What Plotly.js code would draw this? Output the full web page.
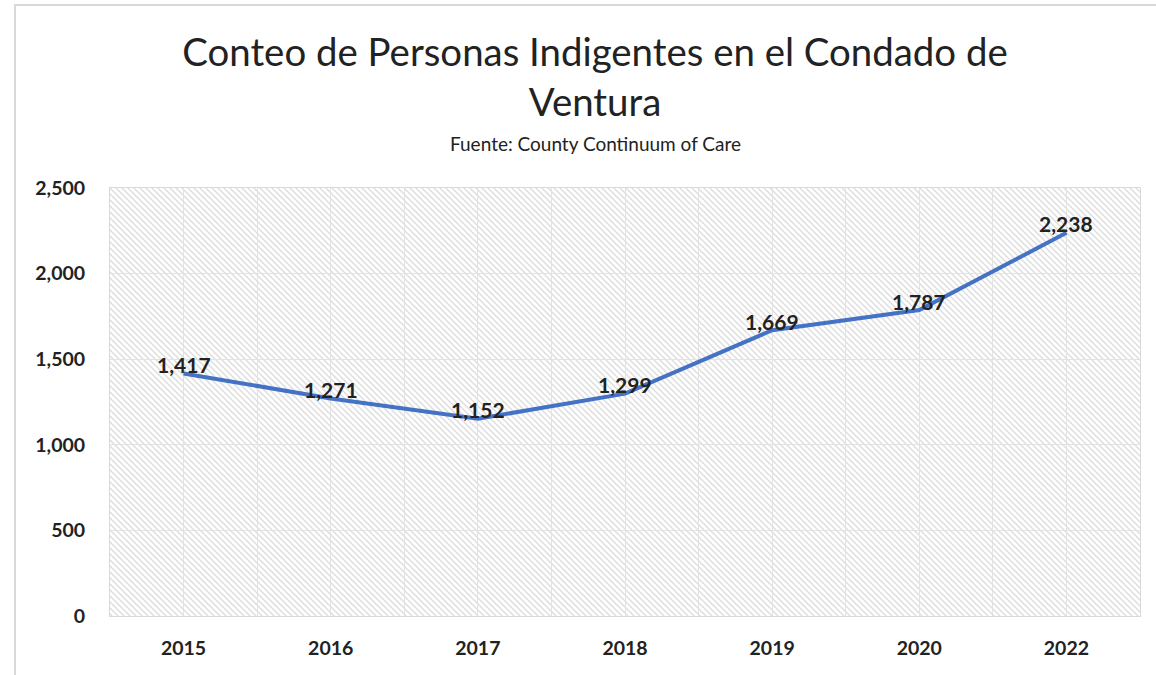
<!DOCTYPE html>
<html>
<head>
<meta charset="utf-8">
<script src="https://cdn.plot.ly/plotly-3.0.1.min.js"></script>
<style>
  html, body { margin: 0; padding: 0; background: #fff; }
  #wrap { position: relative; width: 1156px; height: 675px; overflow: hidden; }
  #frame { position: absolute; left: 14px; top: 4px; width: 1200px; height: 700px;
           border-left: 2px solid #d9d9d9; border-top: 2px solid #d9d9d9; pointer-events: none; }
  #chart { position: absolute; left: 0; top: 0; width: 1156px; height: 675px; }
</style>
</head>
<body>
<div id="wrap">
  <div id="chart"></div>
  <div id="frame"></div>
</div>
<script>
// ---- data ----
const years = ["2015", "2016", "2017", "2018", "2019", "2020", "2022"];
const counts = [1417, 1271, 1152, 1299, 1669, 1787, 2238];
const yTickVals = [0, 500, 1000, 1500, 2000, 2500];
const yTickText = ["0", "500", "1,000", "1,500", "2,000", "2,500"];

const titleText = "Conteo de Personas Indigentes en el Condado de<br>Ventura";
const subtitleText = "Fuente: County Continuum of Care";

const idx = years.map((_, i) => i);
const fmt = v => v.toLocaleString("en-US");

const FONT = "Lato, 'Open Sans', sans-serif";
const lineColor = "#4472C4";
const gridColor = "#e3e3e3";
const W = 1156, H = 675;
const M = { l: 110, r: 16, t: 188, b: 59 };
const plotH = H - M.t - M.b;

const trace = {
  type: "scatter",
  mode: "lines",
  x: idx,
  y: counts,
  line: { color: lineColor, width: 4 },
  hoverinfo: "skip"
};

const annotations = idx.map((i, k) => ({
  x: i, y: counts[k], xref: "x", yref: "y",
  text: "<b>" + fmt(counts[k]) + "</b>",
  showarrow: false, yshift: 9,
  font: { family: FONT, size: 21, color: "#222" }
}));
annotations.push({
  xref: "paper", yref: "paper",
  x: (595 - M.l) / (W - M.l - M.r), y: (H - M.b - 143) / plotH,
  xanchor: "center", yanchor: "middle",
  text: subtitleText, showarrow: false,
  font: { family: FONT, size: 19, color: "#222" }
});

const layout = {
  width: W, height: H,
  margin: M,
  paper_bgcolor: "rgba(0,0,0,0)",
  plot_bgcolor: "#ffffff",
  showlegend: false,
  title: {
    text: titleText,
    font: { family: FONT, size: 38.4, color: "#222" },
    x: 595 / W, xref: "container", xanchor: "center",
    y: 1 - 66 / H, yref: "container", yanchor: "top"
  },
  xaxis: {
    range: [-0.5, years.length - 0.5],
    tickvals: idx, ticktext: years,
    showgrid: true, gridcolor: gridColor, gridwidth: 1,
    minor: { dtick: 0.5, tick0: -0.5, showgrid: true, gridcolor: gridColor, gridwidth: 1, ticks: "" },
    showline: true, linecolor: "#d9d9d9", linewidth: 1, mirror: true,
    zeroline: false, ticks: "",
    ticklabelstandoff: 15,
    tickfont: { family: FONT, size: 19.5, color: "#222", weight: "bold" }
  },
  yaxis: {
    range: [0, 2500],
    tickvals: yTickVals, ticktext: yTickText,
    showgrid: true, gridcolor: gridColor, gridwidth: 1,
    showline: true, linecolor: "#d9d9d9", linewidth: 1, mirror: true,
    zeroline: false, ticks: "",
    ticklabelstandoff: 20,
    tickfont: { family: FONT, size: 19.5, color: "#222", weight: "bold" }
  },
  annotations: annotations
};

function applyHatch(gd) {
  const svg = gd.querySelector("svg.main-svg");
  if (!svg) return;
  const ns = "http://www.w3.org/2000/svg";
  let defs = svg.querySelector("defs");
  if (!defs) { defs = document.createElementNS(ns, "defs"); svg.insertBefore(defs, svg.firstChild); }
  if (!svg.querySelector("#hatchBg")) {
    const pat = document.createElementNS(ns, "pattern");
    pat.setAttribute("id", "hatchBg");
    pat.setAttribute("patternUnits", "userSpaceOnUse");
    pat.setAttribute("width", "6");
    pat.setAttribute("height", "6");
    const r = document.createElementNS(ns, "rect");
    r.setAttribute("width", "6"); r.setAttribute("height", "6"); r.setAttribute("fill", "#ffffff");
    pat.appendChild(r);
    const mk = (x1, y1, x2, y2) => {
      const l = document.createElementNS(ns, "line");
      l.setAttribute("x1", x1); l.setAttribute("y1", y1);
      l.setAttribute("x2", x2); l.setAttribute("y2", y2);
      l.setAttribute("stroke", "#dedede"); l.setAttribute("stroke-width", "1.5");
      pat.appendChild(l);
    };
    mk(0, 0, 6, 6); mk(-3, 3, 3, 9); mk(3, -3, 9, 3);
    defs.appendChild(pat);
  }
  gd.querySelectorAll("rect.bg").forEach(b => { b.style.fill = "url(#hatchBg)"; });
}

Plotly.newPlot("chart", [trace], layout, { displayModeBar: false, staticPlot: true })
  .then(gd => applyHatch(gd));
</script>
</body>
</html>
